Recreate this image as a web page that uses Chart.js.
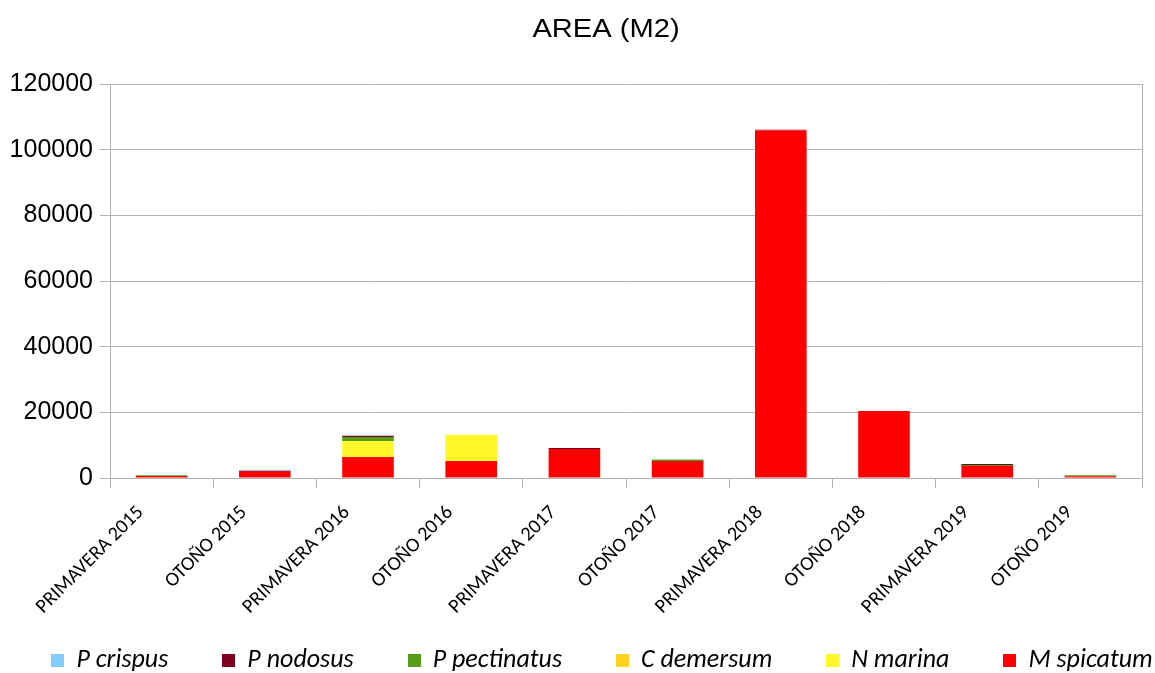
<!DOCTYPE html>
<html>
<head>
<meta charset="utf-8">
<script src="https://cdn.jsdelivr.net/npm/chart.js@4.4.1/dist/chart.umd.min.js"></script>
<style>
html,body{margin:0;padding:0;background:#fff;}
#wrap{width:1155px;height:673px;position:relative;}
</style>
</head>
<body>
<div id="wrap"><canvas id="c" width="1155" height="673"></canvas></div>
<script>
const categories = ["PRIMAVERA 2015","OTOÑO 2015","PRIMAVERA 2016","OTOÑO 2016","PRIMAVERA 2017","OTOÑO 2017","PRIMAVERA 2018","OTOÑO 2018","PRIMAVERA 2019","OTOÑO 2019"];
const pCrispus    = [0, 400, 0, 0, 0, 0, 0, 0, 0, 0];
const pNodosus    = [0, 0, 400, 0, 300, 0, 300, 0, 300, 0];
const pPectinatus = [200, 0, 1200, 0, 0, 400, 0, 0, 300, 300];
const cDemersum   = [0, 0, 0, 0, 0, 0, 0, 0, 0, 0];
const nMarina     = [0, 0, 4900, 8000, 0, 0, 0, 0, 0, 0];
const mSpicatum   = [600, 2100, 6400, 5200, 8800, 5200, 105800, 20400, 3650, 500];
const yTickLabels = ["0","20000","40000","60000","80000","100000","120000"];
const legendOrder = ["P crispus","P nodosus","P pectinatus","C demersum","N marina","M spicatum"];
const titleText = "AREA (M2)";

const labelFont = "Carlito, 'Liberation Sans Narrow', 'Liberation Sans', sans-serif";

// stacked bottom-to-top: M spicatum first
const datasets = [
  {label:"M spicatum", data:mSpicatum, backgroundColor:"#ff0000"},
  {label:"N marina", data:nMarina, backgroundColor:"#fff72a"},
  {label:"C demersum", data:cDemersum, backgroundColor:"#ffd320"},
  {label:"P pectinatus", data:pPectinatus, backgroundColor:"#579d1c"},
  {label:"P nodosus", data:pNodosus, backgroundColor:"#7e0021"},
  {label:"P crispus", data:pCrispus, backgroundColor:"#83caff"}
].map(d => Object.assign(d, {borderWidth:0, barPercentage:0.5, categoryPercentage:1.0}));

const extras = {
  id:'extras',
  beforeDatasetsDraw(chart){
    const {ctx, chartArea} = chart;
    ctx.save();
    ctx.strokeStyle = '#b3b3b3';
    ctx.lineWidth = 1;
    ctx.beginPath();
    ctx.moveTo(Math.round(chartArea.right)+0.5, chartArea.top);
    ctx.lineTo(Math.round(chartArea.right)+0.5, chartArea.bottom);
    ctx.stroke();
    ctx.restore();
  },
  afterDraw(chart){
    const ctx = chart.ctx;
    // title
    ctx.save();
    ctx.fillStyle = '#000';
    ctx.font = "26px 'Liberation Sans', Arial, sans-serif";
    ctx.textAlign = 'center';
    ctx.textBaseline = 'middle';
    ctx.translate(606, 30);
    ctx.scale(1.12, 1);
    ctx.fillText(titleText, 0, 0);
    ctx.restore();
    // legend (single row)
    ctx.save();
    ctx.font = "italic 26px " + labelFont;
    ctx.textBaseline = 'middle';
    ctx.textAlign = 'left';
    const box = 13, boxGap = 12, itemGap = 54;
    const items = legendOrder.map(name => {
      const ds = chart.data.datasets.find(d => d.label === name);
      return {name, color: ds.backgroundColor, w: ctx.measureText(name).width};
    });
    const total = items.reduce((s, it) => s + box + boxGap + it.w, 0) + itemGap * (items.length - 1);
    let x = 602 - total / 2;
    const cy = 660;
    items.forEach(it => {
      ctx.fillStyle = it.color;
      ctx.fillRect(Math.round(x), cy - 6, box, box);
      ctx.fillStyle = '#000';
      ctx.fillText(it.name, x + box + boxGap, cy);
      x += box + boxGap + it.w + itemGap;
    });
    ctx.restore();
  }
};

new Chart(document.getElementById('c'), {
  type:'bar',
  data:{labels:categories, datasets:datasets},
  plugins:[extras],
  options:{
    responsive:false,
    animation:false,
    layout:{padding:{top:84, right:13, left:0, bottom:35}},
    plugins:{
      title:{display:false},
      tooltip:{enabled:false},
      legend:{display:false}
    },
    scales:{
      x:{
        stacked:true,
        afterFit(s){ s.height = 160; },
        border:{display:true, color:'#b3b3b3', width:1},
        grid:{display:true, drawOnChartArea:false, drawTicks:true, tickLength:10, color:'#b3b3b3', offset:true},
        ticks:{
          color:'#000', minRotation:45, maxRotation:45, autoSkip:false, padding:13, labelOffset:-21,
          font:{family:labelFont, size:20}
        }
      },
      y:{
        stacked:true,
        min:0, max:120000,
        afterFit(s){ s.width = 110; },
        afterBuildTicks(s){
          const t = [];
          for (let v = 0; v <= 120000; v += 10000) t.push({value:v});
          s.ticks = t;
        },
        border:{display:true, color:'#b3b3b3', width:1},
        grid:{
          color:(c)=> (c.tick && c.tick.value % 20000 === 0) ? '#b3b3b3' : '#e3e3e3',
          tickColor:(c)=> (c.tick && c.tick.value % 20000 === 0) ? '#b3b3b3' : 'rgba(0,0,0,0)',
          tickLength:10
        },
        ticks:{
          color:'#000', padding:7,
          font:{family:"'Liberation Sans', Arial, sans-serif", size:25},
          callback:(v)=>{ const i = v/20000; return Number.isInteger(i) ? yTickLabels[i] : ''; }
        }
      }
    }
  }
});
</script>
</body>
</html>
